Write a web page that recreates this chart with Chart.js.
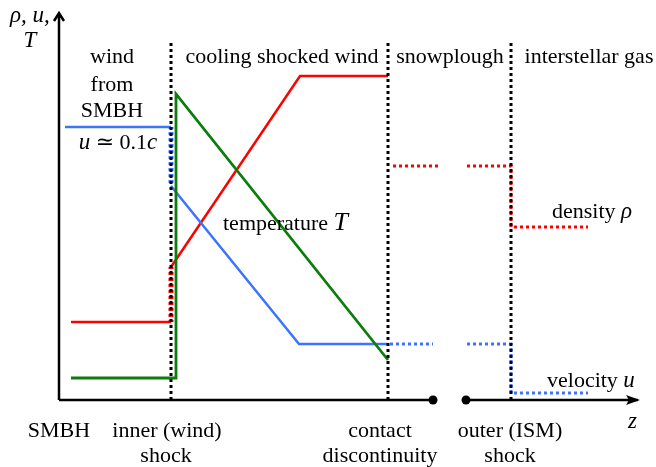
<!DOCTYPE html>
<html>
<head>
<meta charset="utf-8">
<script src="https://cdn.jsdelivr.net/npm/chart.js@4"></script>
<style>
  html, body { margin: 0; padding: 0; background: #fff; }
</style>
</head>
<body>
<canvas id="chart" width="656" height="467"></canvas>
<script>
// schematic units: z = distance from the SMBH, value = rho / u / T (arbitrary)
const zRange = [-59, 597];
const valueRange = [-67, 400];

// inner (wind) shock, contact discontinuity, outer (ISM) shock
const shockZ = [112, 329, 452];
const dividerTop = 357;

// axis: broken z axis with a gap between contact and outer shock
const axisZ = [0, 374, 407, 579];
const axisTop = 387;

// velocity u
const velocityWind = [[6, 273], [112, 273]];
const velocityJump = [[112, 273], [112, 214]];
const velocityShocked = [[112, 214], [240, 56], [329, 56]];
const velocitySnow = [[331, 56], [374, 56]];
const velocityISM = [[408, 56], [452, 56], [452, 7], [529, 7]];

// density rho
const densityWind = [[12, 78], [112, 78]];
const densityJump = [[112, 78], [112, 133]];
const densityShocked = [[112, 133], [241, 324], [329, 324]];
const densitySnow = [[334, 234], [379, 234]];
const densityISM = [[408, 234], [452, 234], [452, 173], [529, 173]];

// temperature T
const temperature = [[12, 22], [117, 22], [117, 306], [329, 40]];

const RED = "#ff0000";
const BLUE = "#3d74ff";
const GREEN = "#0a7d0a";

const SERIF = '"Liberation Serif", "DejaVu Serif", serif';

const toPoints = (arr) => arr.map(([x, y]) => ({ x, y }));

function solid(arr, color, width) {
  return {
    data: toPoints(arr),
    borderColor: color,
    borderWidth: width || 2.5,
    pointRadius: 0,
    tension: 0,
    fill: false,
  };
}

function dotted(arr, color, width, offset) {
  return {
    data: toPoints(arr),
    borderColor: color,
    borderWidth: width || 3,
    borderDash: [3, 3],
    borderDashOffset: offset || 0,
    pointRadius: 0,
    tension: 0,
    fill: false,
  };
}

const dividers = shockZ.map((z) => dotted([[z, 0], [z, dividerTop]], "#000"));

// text: [runs, z, value, align]
const labels = [
  [[["wind"]], 53, 337, "center"],
  [[["from"]], 53, 309, "center"],
  [[["SMBH"]], 53, 283, "center"],
  [[["u", "i"], [" \u2243 0.1"], ["c", "i"]], 59, 251, "center"],
  [[["cooling shocked wind"]], 223, 337, "center"],
  [[["snowplough"]], 391, 337, "center"],
  [[["interstellar gas"]], 530, 337, "center"],
  [[["temperature "], ["T", "I"]], 164, 170, "left"],
  [[["density "], ["\u03c1", "i"]], 493, 182, "left"],
  [[["velocity "], ["u", "i"]], 488, 13, "left"],
  [[["z", "i"]], 569, -28, "left"],
  [[["SMBH"]], 0, -37, "center"],
  [[["inner (wind)"]], 108, -37, "center"],
  [[["shock"]], 107, -62, "center"],
  [[["contact"]], 321, -37, "center"],
  [[["discontinuity"]], 321, -62, "center"],
  [[["outer (ISM)"]], 451, -37, "center"],
  [[["shock"]], 451, -62, "center"],
  [[["\u03c1, ", "i"], ["u", "i"], [",", "i"]], -49, 378, "left"],
  [[["T", "i"]], -29, 353, "center"],
];

function fontFor(style) {
  if (style === "i") return "italic 23px " + SERIF;
  if (style === "I") return "italic 26px " + SERIF;
  return "22px " + SERIF;
}

const schematic = {
  id: "schematic",
  beforeDatasetsDraw(chart) {
    const { ctx, scales } = chart;
    const px = (z) => scales.x.getPixelForValue(z);
    const py = (v) => scales.y.getPixelForValue(v);
    const y0 = py(0);

    ctx.save();
    ctx.strokeStyle = "#000";
    ctx.fillStyle = "#000";
    ctx.lineWidth = 2.5;

    // vertical axis with open arrow head
    ctx.beginPath();
    ctx.moveTo(px(0), y0);
    ctx.lineTo(px(0), py(axisTop));
    ctx.moveTo(px(0) - 5, py(axisTop) + 8);
    ctx.lineTo(px(0), py(axisTop));
    ctx.lineTo(px(0) + 5, py(axisTop) + 8);
    // horizontal axis, two pieces
    ctx.moveTo(px(axisZ[0]), y0);
    ctx.lineTo(px(axisZ[1]), y0);
    ctx.moveTo(px(axisZ[2]), y0);
    ctx.lineTo(px(axisZ[3]), y0);
    ctx.stroke();

    // arrow head on z
    ctx.beginPath();
    ctx.moveTo(px(axisZ[3]) + 2, y0);
    ctx.lineTo(px(axisZ[3]) - 12, y0 - 5);
    ctx.lineTo(px(axisZ[3]) - 9, y0);
    ctx.lineTo(px(axisZ[3]) - 12, y0 + 5);
    ctx.closePath();
    ctx.fill();

    // break dots
    [axisZ[1], axisZ[2]].forEach((z) => {
      ctx.beginPath();
      ctx.arc(px(z), y0, 4.5, 0, Math.PI * 2);
      ctx.fill();
    });
    ctx.restore();
  },
  afterDraw(chart) {
    const { ctx, scales } = chart;
    ctx.save();
    ctx.fillStyle = "#000";
    ctx.textBaseline = "alphabetic";
    ctx.textAlign = "left";
    labels.forEach(([runs, z, v, align]) => {
      let total = 0;
      const widths = runs.map(([t, s]) => {
        ctx.font = fontFor(s);
        const w = ctx.measureText(t).width;
        total += w;
        return w;
      });
      let x = scales.x.getPixelForValue(z);
      if (align === "center") x -= total / 2;
      const y = scales.y.getPixelForValue(v);
      runs.forEach(([t, s], i) => {
        ctx.font = fontFor(s);
        ctx.fillText(t, x, y);
        x += widths[i];
      });
    });
    ctx.restore();
  },
};

new Chart(document.getElementById("chart"), {
  type: "line",
  data: {
    datasets: [
      ...dividers,
      dotted(velocityJump, BLUE, 5, 1),
      dotted(densityJump, RED, 5, 1),
      dotted(velocitySnow, BLUE),
      dotted(velocityISM, BLUE),
      dotted(densitySnow, RED),
      dotted(densityISM, RED),
      solid(temperature, GREEN, 2.8),
      solid(velocityWind, BLUE),
      solid(velocityShocked, BLUE),
      solid(densityWind, RED),
      solid(densityShocked, RED),
    ],
  },
  options: {
    responsive: false,
    animation: false,
    devicePixelRatio: 1,
    layout: { padding: 0 },
    plugins: {
      legend: { display: false },
      tooltip: { enabled: false },
    },
    scales: {
      x: { type: "linear", min: zRange[0], max: zRange[1], display: false },
      y: { type: "linear", min: valueRange[0], max: valueRange[1], display: false },
    },
  },
  plugins: [schematic],
});
</script>
</body>
</html>
